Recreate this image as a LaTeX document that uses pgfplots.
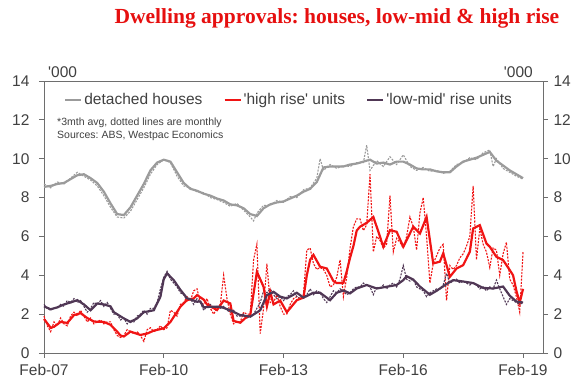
\documentclass[border=0pt]{standalone}
\usepackage{pgfplots}
\pgfplotsset{compat=1.18}
\usepackage{fontspec}
\setmainfont{Liberation Sans}
\newfontfamily\titlefont{Liberation Serif}
\definecolor{hgrey}{RGB}{155,155,155}
\definecolor{hred}{RGB}{240,20,20}
\definecolor{hpurp}{RGB}{80,55,85}
\definecolor{ttl}{RGB}{230,15,15}
\definecolor{axc}{RGB}{110,110,110}
\definecolor{txc}{RGB}{64,64,64}
\newcommand{\q}{\textquotesingle}
\frenchspacing
\begin{document}
\begin{tikzpicture}
\pgfplotsset{
  common/.style={
    scale only axis, width=499pt, height=272pt,
    xmin=0, xmax=150, ymin=0, ymax=14,
    ytick={0,2,...,14},
    axis line style={draw=axc, line width=0.8pt},
    tick style={draw=axc, line width=0.8pt},
    tick align=outside, major tick length=5pt,
    tick label style={font=\fontsize{15.5}{16}\selectfont, text=txc},
    /pgf/number format/assume math mode=true,
  }
}
\begin{axis}[common, clip=false,
  xtick={0,36,72,108,144},
  xticklabels={Feb-07,Feb-10,Feb-13,Feb-16,Feb-19},
  xtick pos=left, ytick pos=left,
  yticklabel style={xshift=-6pt},
  xticklabel style={yshift=-3pt},
  legend style={draw=none, fill=none, at={(rel axis cs:0.04,0.962)}, anchor=north west,
    font=\fontsize{15.5}{16}\selectfont, text=txc, inner sep=0pt,
    /tikz/every even column/.append style={column sep=19pt}},
  legend columns=3,
  legend image code/.code={\draw[#1] (0pt,0pt) -- (16pt,0pt);},
]
% ---- detached houses (monthly, dotted) ----
\addplot[hgrey, line width=1.1pt, dash pattern=on 2pt off 1.3pt, forget plot] coordinates {
(0,8.7)(2,8.5)(4,8.8)(6,8.7)(8,9.0)(10,9.3)(12,9.1)(14,8.9)(16,8.6)(18,8.1)(20,7.5)(22,7.0)(24,6.95)(26,7.3)(28,7.9)(30,8.5)(32,9.2)(34,9.7)(36,9.95)(38,9.8)(40,9.1)(42,8.6)(44,8.5)(46,8.3)(48,8.25)(50,8.0)(52,7.9)(54,7.75)(56,7.55)(58,7.7)(60,7.35)(62,7.0)(63,6.8)(64,7.2)(66,7.6)(68,7.6)(70,7.85)(72,7.75)(74,8.05)(76,8.0)(78,8.4)(80,8.5)(82,9.0)(83,10.0)(84,9.4)(86,9.7)(88,9.5)(90,9.65)(92,9.6)(94,9.8)(96,9.8)(97,10.7)(98,9.4)(100,9.9)(102,9.6)(104,10.1)(106,9.7)(108,10.2)(110,9.6)(112,9.4)(114,9.55)(116,9.35)(118,9.4)(120,9.25)(122,9.35)(124,9.7)(126,9.8)(128,10.05)(130,9.95)(132,10.3)(134,10.45)(135,9.6)(136,10.0)(138,9.5)(140,9.3)(142,9.1)(144,8.95)
};
% ---- high rise (monthly, dotted) ----
\addplot[hred, line width=1.1pt, dash pattern=on 2pt off 1.3pt, forget plot] coordinates {
(0,1.9)(1,1.4)(2,1.1)(3,1.6)(4,1.4)(5,1.8)(6,1.5)(7,1.4)(8,1.9)(9,2.1)(10,1.9)(11,2.2)(12,1.9)(13,1.6)(14,1.8)(15,1.5)(16,1.6)(17,1.7)(18,1.5)(19,1.6)(20,1.6)(21,1.2)(22,0.9)(23,0.8)(24,0.9)(25,1.2)(26,1.1)(27,1.0)(28,1.1)(29,0.9)(30,0.6)(31,1.2)(32,1.3)(33,1.1)(34,1.2)(35,1.4)(36,1.2)(37,1.3)(38,2.2)(39,2.1)(40,1.9)(41,2.5)(42,2.6)(43,2.9)(44,2.7)(45,3.2)(46,3.3)(47,2.6)(48,2.5)(49,2.8)(50,2.3)(51,2.0)(52,2.3)(53,2.5)(54,4.0)(55,2.8)(56,2.0)(57,1.5)(58,1.6)(59,1.6)(60,2.1)(61,2.0)(62,2.0)(63,4.8)(64,5.6)(65,1.0)(66,2.3)(67,4.6)(68,2.6)(69,2.6)(70,3.0)(71,2.4)(72,2.0)(73,2.0)(74,2.5)(75,2.8)(76,2.9)(77,2.8)(78,3.0)(79,5.3)(80,5.4)(81,4.6)(82,4.3)(83,4.4)(84,4.3)(85,4.0)(86,3.4)(87,3.5)(88,3.9)(89,4.8)(90,2.9)(91,3.9)(92,5.4)(93,6.5)(94,6.9)(95,6.9)(96,6.3)(97,6.6)(98,9.2)(99,5.2)(100,6.0)(101,5.8)(102,5.4)(103,5.6)(104,8.1)(105,5.2)(106,5.9)(107,5.7)(108,5.4)(109,6.0)(110,7.0)(111,6.5)(112,5.3)(113,7.2)(114,8.0)(115,6.0)(116,3.6)(117,4.6)(118,5.0)(119,5.4)(120,5.6)(121,2.7)(122,4.5)(123,4.3)(124,4.5)(125,4.9)(126,5.1)(127,5.5)(128,6.0)(129,8.6)(130,4.8)(131,6.4)(132,5.6)(133,5.2)(134,4.4)(135,5.4)(136,5.3)(137,4.0)(138,5.1)(139,5.7)(140,3.8)(141,3.5)(142,2.9)(143,2.1)(144,5.2)
};
% ---- low-mid rise (monthly, dotted) ----
\addplot[hpurp, line width=1.1pt, dash pattern=on 2pt off 1.3pt, forget plot] coordinates {
(0,2.5)(1,2.3)(2,2.2)(3,2.3)(4,2.3)(5,2.5)(6,2.4)(7,2.7)(8,2.6)(9,2.8)(10,2.6)(11,2.7)(12,2.4)(13,2.1)(14,2.3)(15,2.6)(16,2.5)(17,2.7)(18,2.4)(19,2.6)(20,2.3)(21,2.0)(22,2.0)(23,1.7)(24,1.8)(25,1.5)(26,1.7)(27,1.6)(28,1.9)(29,2.0)(30,2.2)(31,2.0)(32,2.3)(33,2.3)(34,2.6)(35,3.3)(36,3.9)(37,4.2)(38,3.8)(39,3.6)(40,3.4)(41,3.1)(42,3.0)(43,2.7)(44,2.8)(45,2.5)(46,2.8)(47,2.6)(48,2.2)(49,2.4)(50,2.5)(51,2.3)(52,2.4)(53,2.3)(54,2.4)(55,2.2)(56,2.1)(57,2.2)(58,1.9)(59,1.9)(60,2.0)(61,1.8)(62,1.9)(63,2.0)(64,2.3)(65,2.6)(66,3.2)(67,3.1)(68,3.3)(69,3.0)(70,2.8)(71,2.9)(72,2.7)(73,2.9)(74,3.0)(75,3.2)(76,2.9)(77,2.8)(78,2.9)(79,3.0)(80,3.3)(81,3.0)(82,3.2)(83,3.1)(84,2.8)(85,2.6)(86,2.9)(87,3.2)(88,3.1)(89,3.3)(90,3.2)(91,3.0)(92,3.1)(93,3.3)(94,3.4)(95,3.4)(96,3.6)(97,3.5)(98,3.4)(99,3.0)(100,3.4)(101,3.3)(102,3.5)(103,3.3)(104,3.5)(105,3.6)(106,3.4)(107,3.8)(108,4.5)(109,3.8)(110,3.7)(111,3.8)(112,3.4)(113,3.3)(114,3.2)(115,2.9)(116,3.1)(117,3.2)(118,3.3)(119,3.3)(120,3.5)(121,4.1)(122,3.6)(123,3.7)(124,3.8)(125,3.6)(126,3.7)(127,3.6)(128,3.5)(129,3.6)(130,3.5)(131,3.3)(132,3.4)(133,3.2)(134,3.4)(135,3.3)(136,3.75)(137,3.3)(138,2.9)(139,2.5)(140,2.8)(141,2.7)(142,2.6)(143,2.5)(144,2.6)
};
% ---- detached houses (3mth avg) ----
\addplot[hgrey, line width=2.2pt] coordinates {
(0,8.55)(2,8.6)(4,8.7)(6,8.75)(8,8.95)(10,9.15)(12,9.2)(14,9.0)(16,8.75)(18,8.3)(20,7.7)(22,7.15)(24,7.1)(26,7.5)(28,8.1)(30,8.7)(32,9.4)(34,9.8)(36,9.95)(38,9.85)(40,9.3)(42,8.75)(44,8.45)(46,8.35)(48,8.2)(50,8.1)(52,7.95)(54,7.85)(56,7.65)(58,7.6)(60,7.45)(62,7.15)(64,7.05)(66,7.45)(68,7.65)(70,7.75)(72,7.8)(74,7.95)(76,8.1)(78,8.3)(80,8.45)(82,8.8)(84,9.55)(86,9.6)(88,9.6)(90,9.6)(92,9.7)(94,9.75)(96,9.85)(98,9.95)(100,9.75)(102,9.8)(104,9.7)(106,9.85)(108,9.85)(110,9.7)(112,9.5)(114,9.45)(116,9.45)(118,9.35)(120,9.3)(122,9.3)(124,9.6)(126,9.85)(128,9.95)(130,10.05)(132,10.2)(134,10.35)(136,9.9)(138,9.65)(140,9.4)(142,9.2)(144,9.0)
};
\addlegendentry{detached houses}
% ---- high rise (3mth avg) ----
\addplot[hred, line width=2.2pt] coordinates {
(0,1.75)(2,1.3)(3,1.35)(5,1.6)(7,1.55)(9,1.95)(11,2.05)(13,1.8)(15,1.62)(18,1.6)(20,1.45)(22,1.1)(23,0.9)(24,0.85)(26,1.1)(29,0.93)(31,1.0)(33,1.15)(36,1.27)(38,1.6)(41,2.38)(43,2.72)(45,2.81)(46,2.98)(48,2.75)(49,2.5)(52,2.21)(54,2.7)(56,2.55)(57,1.65)(59,1.56)(61,1.87)(62,1.95)(64,4.18)(66,3.41)(67,2.4)(68,3.15)(69,2.5)(71,2.7)(73,2.1)(76,2.72)(78,2.85)(79,4.0)(80,4.8)(81,5.05)(83,4.44)(85,4.35)(87,3.7)(88,3.6)(90,3.6)(91,4.2)(92,4.9)(93,5.5)(94,6.3)(95,6.5)(97,6.7)(99,7.0)(100,6.5)(102,5.47)(104,6.32)(106,6.24)(108,5.47)(109,5.81)(111,6.5)(113,6.15)(115,7.0)(117,4.61)(119,4.7)(120,5.13)(122,3.92)(124,4.35)(126,4.52)(128,5.21)(129,6.41)(131,6.58)(133,5.64)(134,5.47)(136,4.95)(138,4.78)(140,4.27)(141,4.0)(142,3.2)(143,2.6)(144,3.3)
};
\addlegendentry{\q high rise\q{} units}
% ---- low-mid rise (3mth avg) ----
\addplot[hpurp, line width=2.2pt] coordinates {
(0,2.4)(2,2.25)(4,2.35)(6,2.5)(8,2.6)(10,2.72)(12,2.5)(14,2.2)(16,2.55)(18,2.5)(20,2.4)(21,2.1)(24,1.78)(26,1.6)(28,1.78)(30,2.1)(33,2.2)(35,2.9)(36,3.8)(37,4.1)(39,3.75)(41,3.25)(43,2.82)(46,2.64)(47,2.65)(48,2.35)(50,2.38)(53,2.38)(56,2.2)(59,1.95)(62,1.87)(65,2.2)(67,2.98)(69,3.15)(71,2.9)(73,2.81)(76,3.1)(78,2.85)(81,3.1)(83,3.1)(86,2.72)(88,3.1)(90,3.22)(92,3.07)(94,3.32)(97,3.5)(100,3.32)(103,3.41)(106,3.5)(108,3.75)(109,3.95)(111,3.78)(113,3.42)(116,3.0)(118,3.2)(121,3.55)(123,3.75)(126,3.68)(129,3.6)(132,3.35)(135,3.32)(138,3.42)(140,2.95)(142,2.65)(144,2.6)
};
\addlegendentry{\q low-mid\q{} rise units}
\node[anchor=north west, align=left, inner sep=0pt, font=\fontsize{10.5}{13}\selectfont, text=txc]
  at (rel axis cs:0.026,0.865) {*3mth avg, dotted lines are monthly\\Sources: ABS, Westpac Economics};
\node[anchor=south west, inner sep=0pt, font=\fontsize{15.5}{16}\selectfont, text=txc]
  at ([xshift=4pt,yshift=3pt]rel axis cs:0,1) {\q 000};
\node[anchor=south east, inner sep=0pt, font=\fontsize{15.5}{16}\selectfont, text=txc]
  at ([xshift=-10pt,yshift=3pt]rel axis cs:1,1) {\q 000};
\node[font=\titlefont\bfseries\fontsize{21.5}{22}\selectfont, text=ttl, inner sep=0pt]
  at ([yshift=63pt]rel axis cs:0.587,1) {Dwelling approvals: houses, low-mid \& high rise};
\coordinate (BL) at ([xshift=-44pt,yshift=-37pt]rel axis cs:0,0);
\coordinate (TR) at ([xshift=37pt,yshift=81pt]rel axis cs:1,1);
\end{axis}
\begin{axis}[common,
  hide x axis, axis y line*=right,
  yticklabel style={xshift=2pt},
]
\end{axis}
\pgfresetboundingbox
\path[use as bounding box] (BL) rectangle (TR);
\end{tikzpicture}
\end{document}
